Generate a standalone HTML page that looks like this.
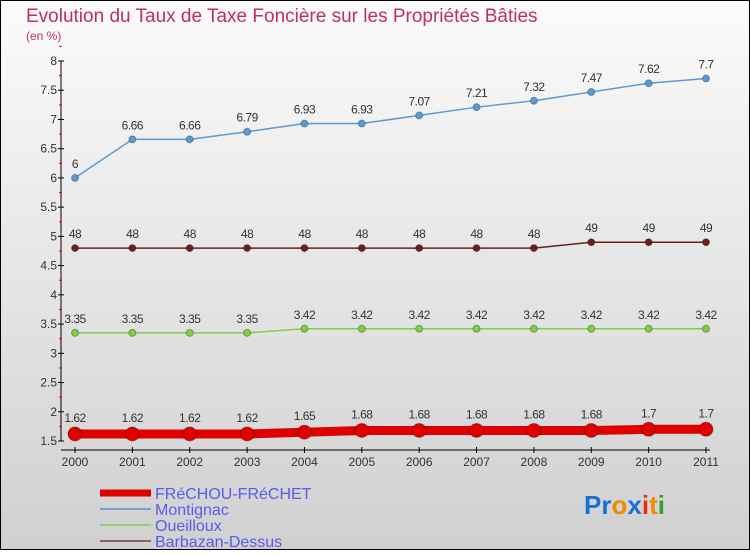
<!DOCTYPE html>
<html><head><meta charset="utf-8"><style>
html,body{margin:0;padding:0}
body{width:750px;height:550px;overflow:hidden;font-family:"Liberation Sans",sans-serif}
</style></head><body>
<svg id="chart" width="750" height="550" xmlns="http://www.w3.org/2000/svg">
<defs><linearGradient id="bg" x1="0" y1="0" x2="0" y2="1"><stop offset="0" stop-color="#fbfbfb"/><stop offset="1" stop-color="#d0d0d0"/></linearGradient></defs>
<rect x="0.5" y="0.5" width="749" height="549" fill="url(#bg)" stroke="#000"/>
<text x="26" y="22" font-size="19" fill="#c0305f">Evolution du Taux de Taxe Foncière sur les Propriétés Bâties</text>
<text x="26" y="40" font-size="12" fill="#c0305f">(en %)</text>
<g id="axes"></g><g id="series"></g><g id="legend"></g>
<text x="584" y="514" font-size="26" font-weight="bold" font-family="Liberation Sans,sans-serif"><tspan fill="#1a6fd0">Pr</tspan><tspan fill="#f08a00">o</tspan><tspan fill="#1a6fd0">x</tspan><tspan fill="#e83010">i</tspan><tspan fill="#f08a00">t</tspan><tspan fill="#30a030">i</tspan></text>
</svg>
<script>
const years=[2000,2001,2002,2003,2004,2005,2006,2007,2008,2009,2010,2011];
const frechou=[1.62,1.62,1.62,1.62,1.65,1.68,1.68,1.68,1.68,1.68,1.7,1.7];
const montignac=[6,6.66,6.66,6.79,6.93,6.93,7.07,7.21,7.32,7.47,7.62,7.7];
const oueilloux=[3.35,3.35,3.35,3.35,3.42,3.42,3.42,3.42,3.42,3.42,3.42,3.42];
const barbazan=[4.8,4.8,4.8,4.8,4.8,4.8,4.8,4.8,4.8,4.9,4.9,4.9];
const yTicks=[1.5,2,2.5,3,3.5,4,4.5,5,5.5,6,6.5,7,7.5,8];
const NS="http://www.w3.org/2000/svg";
function X(i){return 75+i*(706-75)/(years.length-1);}
function Y(v){return 441-(v-1.5)*(441-61)/6.5;}
function mk(t,a,p){const e=document.createElementNS(NS,t);for(const k in a)e.setAttribute(k,a[k]);p.appendChild(e);return e;}
function fmt(v){return String(v);}
const ax=document.getElementById('axes');
let yl=mk('line',{x1:61,y1:61,x2:61,y2:441,stroke:'#000'},ax);


yTicks.forEach(v=>{
 mk('line',{x1:58,y1:Y(v),x2:64,y2:Y(v),stroke:'#000'},ax);
 mk('line',{x1:59,y1:Y(v+0.25),x2:62,y2:Y(v+0.25),stroke:'#e00'},ax);
 let t=mk('text',{x:57,y:Y(v)+4,'text-anchor':'end','font-size':12,fill:'#333'},ax);t.textContent=String(v);
 
 
});
let xl=mk('line',{x1:61,y1:450,x2:710,y2:450,stroke:'#000'},ax);


years.forEach((y,i)=>{
 mk('line',{x1:X(i),y1:447,x2:X(i),y2:453,stroke:'#000'},ax);
 let t=mk('text',{x:X(i),y:466,'text-anchor':'middle','font-size':12,fill:'#333'},ax);t.textContent=y;
 
 
});
const sg=document.getElementById('series');
function draw(name,vals,color,w,r,labels){
 const g=mk('g',{},sg);
 
 
 mk('polyline',{points:vals.map((v,i)=>X(i)+','+Y(v)).join(' '),fill:'none',stroke:color,'stroke-width':w},g);
 vals.forEach((v,i)=>{
  const c=mk('circle',{cx:X(i),cy:Y(v),r:r,fill:color,stroke:'rgba(0,0,0,0.3)'},g);
  
  
  const t=mk('text',{x:X(i),y:Y(v)-10-(r>5?2:0),'text-anchor':'middle','font-size':12,fill:'#333','letter-spacing':'-0.5'},g);
  t.textContent=labels[i];
  
  
 });
}
draw('montignac',montignac,'#5b9bd5',1.5,3.5,montignac.map(fmt));
draw('barbazan-dessus',barbazan,'#6b2020',1.5,3.5,barbazan.map(v=>String(Math.round(v*10))));
draw('oueilloux',oueilloux,'#80d040',1.5,3.5,oueilloux.map(fmt));
draw('frechou-frechet',frechou,'#e00000',9,7,frechou.map(fmt));
const lg=document.getElementById('legend');
const leg=[['FRéCHOU-FRéCHET','#e00000',7],['Montignac','#6fa5d0',2],['Oueilloux','#90d070',2],['Barbazan-Dessus','#906060',2]];
leg.forEach((l,i)=>{
 const y=493+i*16;
 const g=mk('g',{},lg);
 
 
 mk('line',{x1:100,y1:y,x2:151,y2:y,stroke:l[1],'stroke-width':l[2]},g);
 const t=mk('text',{x:155,y:y+6,'font-size':16,fill:'#5a5af0'},g);t.textContent=l[0];
});
</script>
</body></html>
